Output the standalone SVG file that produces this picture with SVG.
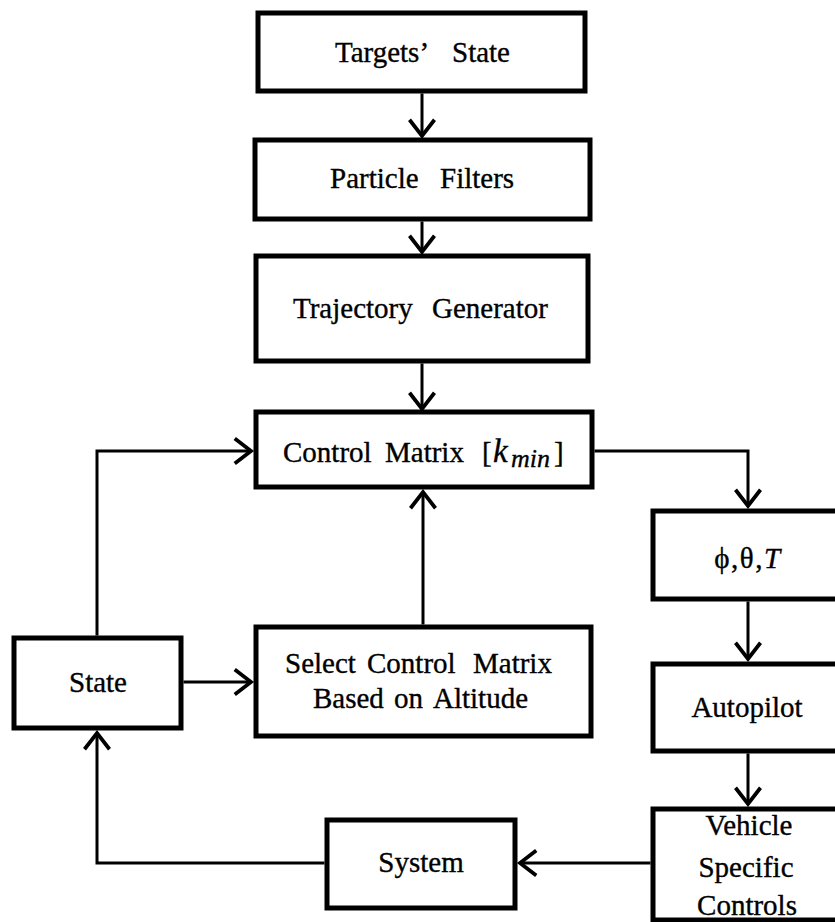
<svg xmlns="http://www.w3.org/2000/svg" width="835" height="922" viewBox="0 0 835 922">
<style>
.box{fill:#fff;stroke:#000;stroke-width:5}
.lbl{font-family:"Liberation Serif","Times New Roman",serif;font-size:29px;fill:#000;stroke:#000;stroke-width:0.35}
.mid{text-anchor:middle}
.conn{fill:none;stroke:#000;stroke-width:3}
</style>
<defs>
<marker id="arr" markerUnits="userSpaceOnUse" markerWidth="30" markerHeight="30" viewBox="-16 -12 20 24" refX="0" refY="0" orient="auto" overflow="visible">
<path d="M-13,-10 L0,0 L-13,10" fill="none" stroke="#000" stroke-width="3"/>
</marker>
</defs>
<rect width="835" height="922" fill="#fff"/>
<g id="connectors">
<path class="conn" d="M422,93.5 V136" marker-end="url(#arr)"/>
<path class="conn" d="M422,221.5 V252" marker-end="url(#arr)"/>
<path class="conn" d="M422,363.5 V409" marker-end="url(#arr)"/>
<path class="conn" d="M423,624.5 V492" marker-end="url(#arr)"/>
<path class="conn" d="M97,635.5 V451 H251" marker-end="url(#arr)"/>
<path class="conn" d="M183.5,682 H251" marker-end="url(#arr)"/>
<path class="conn" d="M594.5,451 H748 V506" marker-end="url(#arr)"/>
<path class="conn" d="M748,601.5 V659" marker-end="url(#arr)"/>
<path class="conn" d="M748,753.5 V804" marker-end="url(#arr)"/>
<path class="conn" d="M650.5,863 H520" marker-end="url(#arr)"/>
<path class="conn" d="M324.5,863 H97 V733" marker-end="url(#arr)"/>
</g>
<g id="targets-state">
<rect class="box" x="258" y="13" width="327" height="78"/>
<text class="lbl" y="62"><tspan x="335">Targets’ </tspan><tspan x="452">State</tspan></text>
</g>
<g id="particle-filters">
<rect class="box" x="255" y="140" width="335" height="79"/>
<text class="lbl" y="188"><tspan x="330">Particle </tspan><tspan x="440">Filters</tspan></text>
</g>
<g id="trajectory-generator">
<rect class="box" x="256" y="256" width="332" height="105"/>
<text class="lbl" y="318"><tspan x="293">Trajectory </tspan><tspan x="432">Generator</tspan></text>
</g>
<g id="control-matrix">
<rect class="box" x="256" y="412" width="336" height="75"/>
<text class="lbl" y="462"><tspan x="283">Control </tspan><tspan x="385">Matrix </tspan><tspan x="482">[</tspan><tspan x="493" font-style="italic" font-size="33">k</tspan><tspan x="511" y="467" font-style="italic" font-size="26">min</tspan><tspan x="554" y="462">]</tspan></text>
</g>
<g id="state">
<rect class="box" x="14" y="638" width="167" height="90"/>
<text class="lbl mid" x="98" y="692">State</text>
</g>
<g id="select-control-matrix">
<rect class="box" x="256" y="627" width="335" height="109"/>
<text class="lbl" y="673"><tspan x="285">Select </tspan><tspan x="367">Control </tspan><tspan x="473">Matrix</tspan></text>
<text class="lbl" y="708"><tspan x="313">Based </tspan><tspan x="394">on </tspan><tspan x="433">Altitude</tspan></text>
</g>
<g id="phi-theta-T">
<rect class="box" x="653" y="511" width="200" height="88"/>
<text class="lbl mid" x="748" y="568" font-size="31" letter-spacing="1.5">ϕ,θ,<tspan font-style="italic">T</tspan></text>
</g>
<g id="autopilot">
<rect class="box" x="653" y="664" width="200" height="87"/>
<text class="lbl mid" x="747" y="717">Autopilot</text>
</g>
<g id="vehicle-specific-controls">
<rect class="box" x="653" y="809" width="200" height="111"/>
<text class="lbl mid" x="749" y="835">Vehicle</text>
<text class="lbl mid" x="746" y="877">Specific</text>
<text class="lbl mid" x="747" y="915">Controls</text>
</g>
<g id="system">
<rect class="box" x="327" y="820" width="188" height="88"/>
<text class="lbl mid" x="421" y="872">System</text>
</g>
</svg>
